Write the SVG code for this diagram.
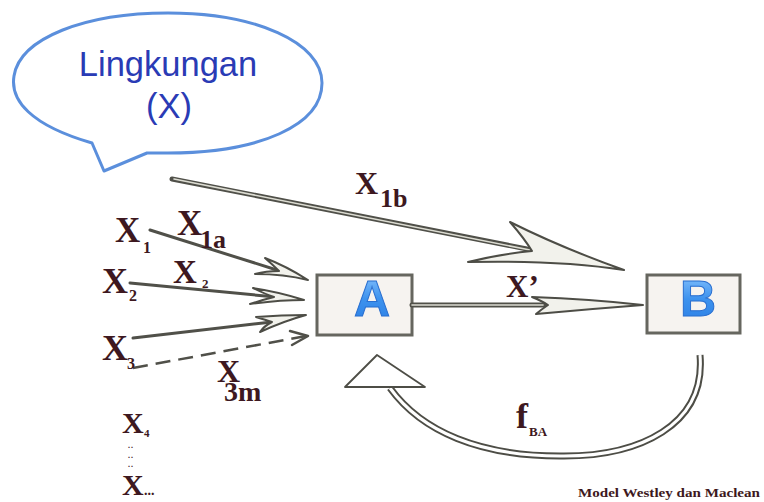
<svg xmlns="http://www.w3.org/2000/svg" width="764" height="502" viewBox="0 0 764 502">
<style>
.lbl{font-family:"Liberation Serif","Times New Roman",serif;font-weight:bold;fill:#3d1820}
.bub{font-family:"Liberation Sans",Arial,sans-serif;fill:#2a3bb5;font-size:34.5px;text-anchor:middle}
.box{fill:#f6f3f0;stroke:#66665f;stroke-width:3}
.big{font-family:"Liberation Sans",Arial,sans-serif;font-weight:bold;font-size:50px;text-anchor:middle;fill:url(#blue);stroke:#2a6fd0;stroke-width:1}
.sh{fill:none;stroke:#505049;stroke-width:5;stroke-linecap:round}
.shi{fill:none;stroke:#dcdcd2;stroke-width:1.6;stroke-linecap:round}
.thin{fill:none;stroke:#505049;stroke-width:3;stroke-linecap:round}
.head{fill:#f2f2ec;stroke:#4d4d46;stroke-width:2;stroke-linejoin:round}
</style>
<defs>
<linearGradient id="blue" x1="0" y1="0" x2="0" y2="1">
<stop offset="0" stop-color="#8cc6ff"/>
<stop offset="0.5" stop-color="#3d92ee"/>
<stop offset="1" stop-color="#2a7de4"/>
</linearGradient>
</defs>
<rect width="764" height="502" fill="#ffffff"/>

<g id="bubble">
<path d="M92,143 C30,125 10,100 14,76 C20,38 85,13 168,13 C255,13 322,42 322,83 C322,125 260,153 168,153 C160,153 152,153 147,153 L104,171 Z" fill="#ffffff" stroke="#5b8fdc" stroke-width="3" stroke-linejoin="round"/>
<text class="bub" x="168" y="76">Lingkungan</text>
<text class="bub" x="169" y="118">(X)</text>
</g>

<g id="nodeA">
<rect class="box" x="317" y="275" width="95" height="60"/>
<text class="big" x="372" y="316">A</text>
</g>

<g id="nodeB">
<rect class="box" x="647" y="275" width="93" height="58"/>
<text class="big" x="698" y="316">B</text>
</g>

<g id="connectors">
<!-- X1b -->
<path class="sh" d="M172,179 L532,250"/>
<path class="shi" d="M174,179 L530,250"/>
<path class="head" d="M624,270 Q562,248 510,222 Q524,238 532,251 Q500,254 468,262 Q560,260 624,270 Z"/>
<!-- X' -->
<path class="sh" d="M412,305 L545,305" stroke-width="6"/>
<path class="shi" d="M412,305 L543,305"/>
<path class="head" d="M643,305 Q590,299 532,297 Q542,301 548,305 Q542,309 536,314 Q590,309 643,305 Z"/>
<!-- X1 -->
<path class="thin" d="M150,230 L280,271"/>
<path class="head" d="M308,280 Q286,266 265,258 Q273,265 279,271 Q266,271 255,274 Q284,274 308,280 Z"/>
<!-- X2 -->
<path class="thin" d="M130,283 L276,297"/>
<path class="head" d="M304,300 Q280,292 253,288 Q265,294 274,297 Q262,300 250,304 Q280,300 304,300 Z"/>
<!-- X3 -->
<path class="thin" d="M133,338 L272,322"/>
<path class="head" d="M306,315 Q282,315 256,317 Q266,320 272,322 Q264,326 260,332 Q284,321 306,315 Z"/>
<!-- X3m dashed -->
<path d="M133,368 L306,336" fill="none" stroke="#505049" stroke-width="2.5" stroke-dasharray="15,8"/>
<path d="M290,331 L308,336 L292,345" fill="none" stroke="#505049" stroke-width="2.5" stroke-linejoin="round" stroke-linecap="round"/>
<!-- fBA -->
<path d="M700,355 C706,425 640,457 560,456 C480,456 422,432 390,388" fill="none" stroke="#4d4d46" stroke-width="7"/>
<path d="M700,355 C706,425 640,457 560,456 C480,456 422,432 390,388" fill="none" stroke="#ffffff" stroke-width="3"/>
<path d="M377,355 L425,387 L345,387 Z" fill="#ffffff" stroke="#4d4d46" stroke-width="1.8" stroke-linejoin="round"/>
</g>

<g id="labels">
<text class="lbl" x="115" y="242" font-size="35">X</text>
<text class="lbl" x="143" y="253" font-size="16">1</text>
<text class="lbl" x="177" y="235" font-size="35">X</text>
<text class="lbl" x="200" y="248" font-size="26">1a</text>
<text class="lbl" x="355" y="194" font-size="32">X</text>
<text class="lbl" x="380" y="207" font-size="26">1b</text>
<text class="lbl" x="102" y="293" font-size="36">X</text>
<text class="lbl" x="129" y="301" font-size="16">2</text>
<text class="lbl" x="173" y="283" font-size="33">X</text>
<text class="lbl" x="202" y="288" font-size="13">2</text>
<text class="lbl" x="102" y="360" font-size="36">X</text>
<text class="lbl" x="127" y="369" font-size="16">3</text>
<text class="lbl" x="217" y="382" font-size="32">X</text>
<text class="lbl" x="224" y="401" font-size="28">3m</text>
<text class="lbl" x="506" y="297" font-size="31">X’</text>
<text class="lbl" x="122" y="433" font-size="30">X</text>
<text class="lbl" x="144" y="437" font-size="11">4</text>
<text class="lbl" font-size="8" letter-spacing="1"><tspan x="128" y="448">..</tspan><tspan x="128" y="457.5">..</tspan><tspan x="128" y="467">..</tspan></text>
<text class="lbl" x="122" y="495" font-size="30">X</text>
<text class="lbl" x="144" y="495" font-size="14">...</text>
<text class="lbl" x="516" y="428" font-size="36">f</text>
<text class="lbl" x="529" y="436" font-size="13">BA</text>
<text class="lbl" x="578" y="497" font-size="13" textLength="182" lengthAdjust="spacingAndGlyphs">Model Westley dan Maclean</text>
</g>
</svg>
